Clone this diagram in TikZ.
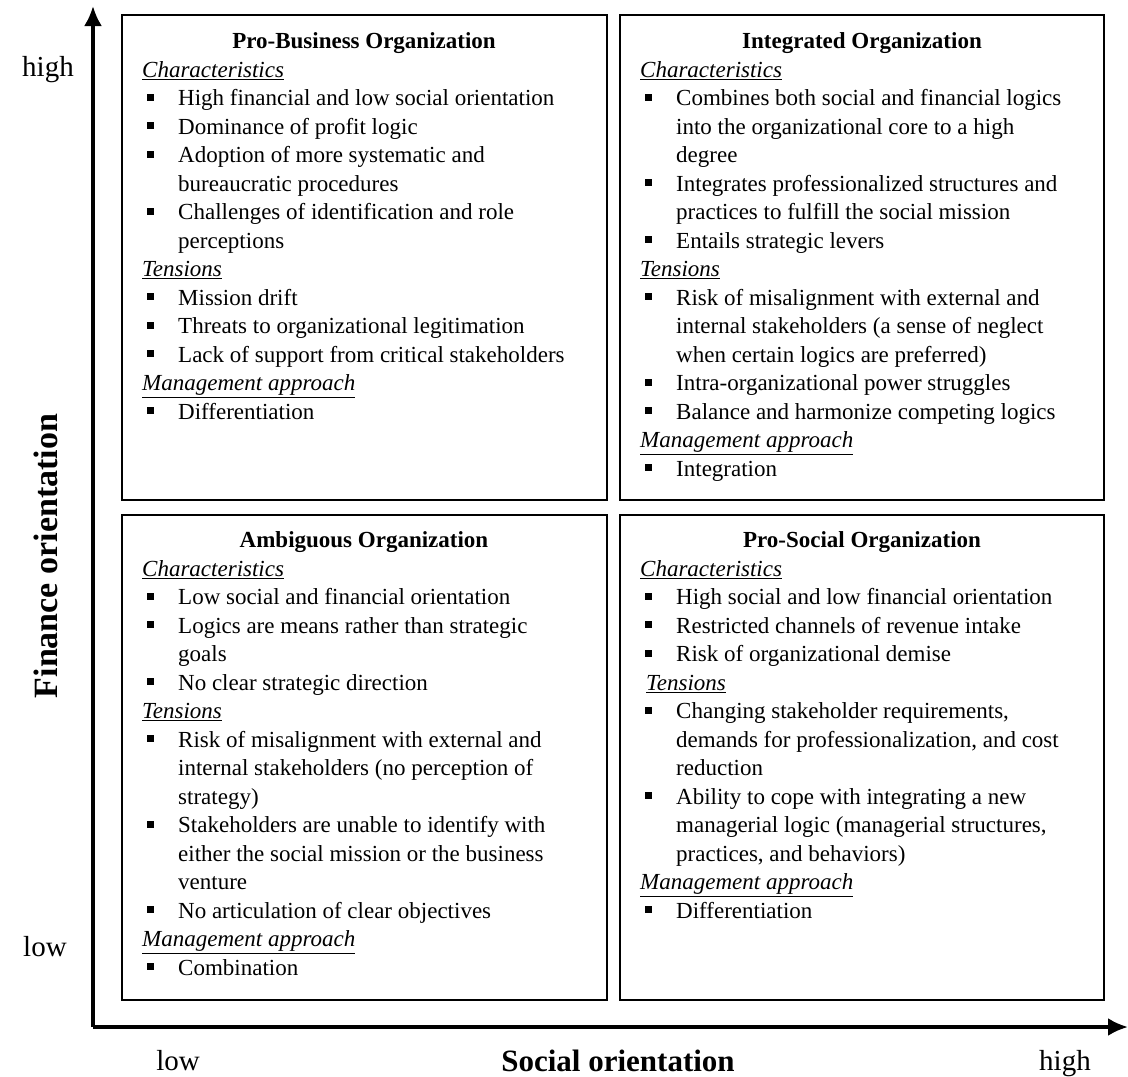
\documentclass[tikz,border=0pt]{standalone}
\usepackage{fontspec}
\setmainfont{Liberation Serif}
\usetikzlibrary{arrows.meta}

\tikzstyle{quadrant}=[draw, line width=2.4pt]
\tikzstyle{qtitle}=[inner sep=0pt, font=\fontsize{23}{28.5}\selectfont\bfseries]
\tikzstyle{qbody}=[anchor=north west, inner sep=0pt, align=left, font=\fontsize{23}{28.5}\selectfont]
\tikzstyle{axislabel}=[inner sep=0pt, anchor=base, font=\fontsize{31}{34}\selectfont\bfseries]
\tikzstyle{levellabel}=[inner sep=0pt, anchor=base, font=\fontsize{29}{34}\selectfont]

\newcommand{\bl}{\makebox[36pt][l]{\hspace{5pt}\raisebox{5pt}{\rule{7pt}{7pt}}}}
\newcommand{\cl}{\hspace*{36pt}}
\newcommand{\hd}[1]{\underline{\textit{#1}}}

\begin{document}
\begin{tikzpicture}[x=1pt, y=-1pt]
\useasboundingbox (0,0) rectangle (1128,1077);

% axes
\coordinate (origin) at (93,1027);
\coordinate (ytip) at (93,6);
\coordinate (xtip) at (1128,1027);
\draw[line width=3.5pt, -{Latex[length=20pt, width=18pt]}] (origin) -- (ytip);
\draw[line width=3.5pt, -{Latex[length=20pt, width=18pt]}] (origin) -- (xtip);

\node[levellabel] (yhigh) at (48,76) {high};
\node[levellabel] (ylow) at (45,956) {low};
\node[levellabel] (xlow) at (178,1070) {low};
\node[levellabel] (xhigh) at (1065,1070) {high};
\node[axislabel] (xlabel) at (618,1071) {Social orientation};
\node[axislabel, anchor=center, rotate=90, font=\fontsize{34}{38}\selectfont\bfseries] (ylabel) at (46,556) {Finance orientation};

% Pro-Business
\draw[quadrant] (122,15) rectangle (607,500);
\node[qtitle] (pbtitle) at (364,43) {Pro-Business Organization};
\node[qbody] (pbtext) at (142,61) {\hd{Characteristics}\\
\bl High financial and low social orientation\\
\bl Dominance of profit logic\\
\bl Adoption of more systematic and\\
\cl bureaucratic procedures\\
\bl Challenges of identification and role\\
\cl perceptions\\
\hd{Tensions}\\
\bl Mission drift\\
\bl Threats to organizational legitimation\\
\bl Lack of support from critical stakeholders\\
\hd{Management approach}\\
\bl Differentiation};

% Integrated
\draw[quadrant] (620,15) rectangle (1104,500);
\node[qtitle] (intitle) at (862,43) {Integrated Organization};
\node[qbody] (intext) at (640,61) {\hd{Characteristics}\\
\bl Combines both social and financial logics\\
\cl into the organizational core to a high\\
\cl degree\\
\bl Integrates professionalized structures and\\
\cl practices to fulfill the social mission\\
\bl Entails strategic levers\\
\hd{Tensions}\\
\bl Risk of misalignment with external and\\
\cl internal stakeholders (a sense of neglect\\
\cl when certain logics are preferred)\\
\bl Intra-organizational power struggles\\
\bl Balance and harmonize competing logics\\
\hd{Management approach}\\
\bl Integration};

% Ambiguous
\draw[quadrant] (122,515) rectangle (607,1000);
\node[qtitle] (amtitle) at (364,542) {Ambiguous Organization};
\node[qbody] (amtext) at (142,560) {\hd{Characteristics}\\
\bl Low social and financial orientation\\
\bl Logics are means rather than strategic\\
\cl goals\\
\bl No clear strategic direction\\
\hd{Tensions}\\
\bl Risk of misalignment with external and\\
\cl internal stakeholders (no perception of\\
\cl strategy)\\
\bl Stakeholders are unable to identify with\\
\cl either the social mission or the business\\
\cl venture\\
\bl No articulation of clear objectives\\
\hd{Management approach}\\
\bl Combination};

% Pro-Social
\draw[quadrant] (620,515) rectangle (1104,1000);
\node[qtitle] (pstitle) at (862,542) {Pro-Social Organization};
\node[qbody] (pstext) at (640,560) {\hd{Characteristics}\\
\bl High social and low financial orientation\\
\bl Restricted channels of revenue intake\\
\bl Risk of organizational demise\\
\hspace*{6pt}\hd{Tensions}\\
\bl Changing stakeholder requirements,\\
\cl demands for professionalization, and cost\\
\cl reduction\\
\bl Ability to cope with integrating a new\\
\cl managerial logic (managerial structures,\\
\cl practices, and behaviors)\\
\hd{Management approach}\\
\bl Differentiation};
\end{tikzpicture}
\end{document}
